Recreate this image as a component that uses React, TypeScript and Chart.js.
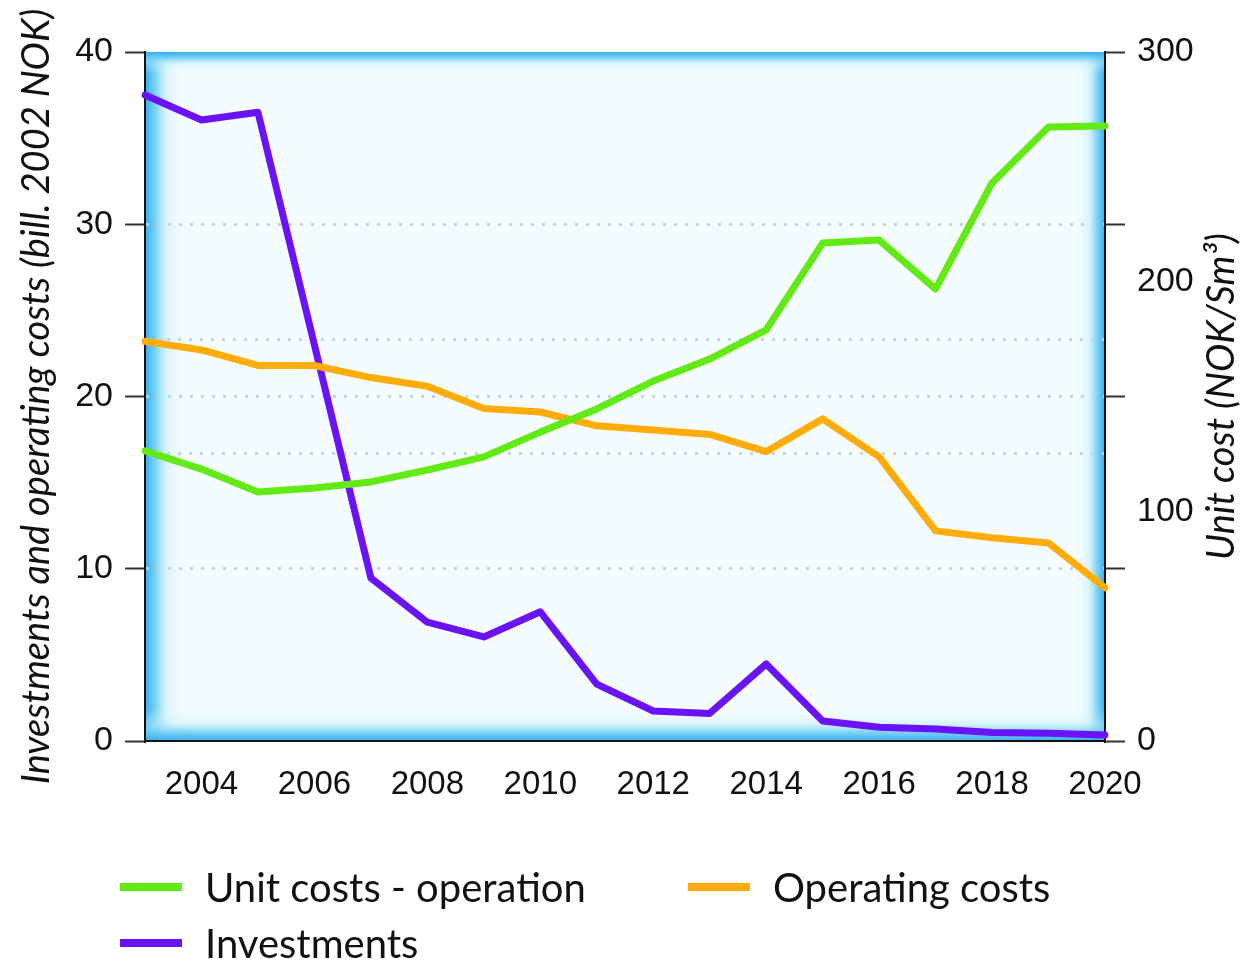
import { useEffect, useRef } from 'react';
import { Chart, registerables } from 'chart.js';
Chart.register(...registerables);

const years = [2003, 2004, 2005, 2006, 2007, 2008, 2009, 2010, 2011, 2012, 2013, 2014, 2015, 2016, 2017, 2018, 2019, 2020];
const unitCosts = [126.3, 118.4, 108.4, 110.2, 112.8, 118, 123.7, 134.5, 144.6, 156.7, 166.3, 179, 216.8, 218.1, 196.8, 243, 267.3, 267.8];
const operatingCosts = [23.2, 22.7, 21.8, 21.8, 21.1, 20.6, 19.3, 19.1, 18.3, 18.05, 17.8, 16.8, 18.7, 16.5, 12.2, 11.8, 11.5, 8.9];
const investments = [37.5, 36.05, 36.5, 23, 9.46, 6.9, 6.04, 7.5, 3.3, 1.74, 1.6, 4.47, 1.16, 0.8, 0.7, 0.5, 0.45, 0.35];

const xTickYears = [2004, 2006, 2008, 2010, 2012, 2014, 2016, 2018, 2020];
const leftTicks = [0, 10, 20, 30, 40];
const leftGrid = [10, 20, 30];
const rightAllTicks = [0, 75, 100, 125, 150, 175, 200, 225, 300];
const rightLabels = [0, 100, 200, 300];
const rightTickMarks = [0, 75, 150, 225, 300];
const rightGrid = [125, 175];

const leftTitle = 'Investments and operating costs (bill. 2002 NOK)';
const rightTitle = 'Unit cost (NOK/Sm³)';

const GREEN = '#62ea14';
const ORANGE = '#ffab08';
const PURPLE = '#6a12f8';
const DOT = '#bdd9dd';
const TICKFONT = "'Liberation Sans Narrow', 'Liberation Sans', sans-serif";
const TEXTFONT = "Lato, 'Open Sans', sans-serif";

const bgPlugin = {
  id: 'bgFrame',
  beforeDraw(chart: any) {
    const { ctx, chartArea: a } = chart;
    ctx.save();
    ctx.fillStyle = '#f4fcfe';
    ctx.fillRect(a.left, a.top, a.width, a.height);
    const edge = (x0: number, y0: number, x1: number, y1: number, rx: number, ry: number, rw: number, rh: number) => {
      const g = ctx.createLinearGradient(x0, y0, x1, y1);
      g.addColorStop(0, 'rgba(50,172,240,1)');
      g.addColorStop(0.28, 'rgba(110,205,245,0.85)');
      g.addColorStop(0.55, 'rgba(185,235,250,0.45)');
      g.addColorStop(1, 'rgba(235,250,253,0)');
      ctx.fillStyle = g;
      ctx.fillRect(rx, ry, rw, rh);
    };
    const L = 40, R = 30, T = 22, B = 32;
    edge(a.left, 0, a.left + L, 0, a.left, a.top, L, a.height);
    edge(a.right, 0, a.right - R, 0, a.right - R, a.top, R, a.height);
    edge(0, a.top, 0, a.top + T, a.left, a.top, a.width, T);
    edge(0, a.bottom, 0, a.bottom - B, a.left, a.bottom - B, a.width, B);
    ctx.restore();
  },
};

const rightTitlePlugin = {
  id: 'rightTitle',
  afterDraw(chart: any) {
    const { ctx, chartArea: a } = chart;
    ctx.save();
    ctx.translate(1222, (a.top + a.bottom) / 2);
    ctx.rotate(-Math.PI / 2);
    ctx.font = `italic 38px ${TEXTFONT}`;
    ctx.fillStyle = '#111';
    ctx.textAlign = 'center';
    ctx.textBaseline = 'middle';
    ctx.fillText(rightTitle, 0, 0);
    ctx.restore();
  },
};

export default function App() {
  const ref = useRef<HTMLCanvasElement>(null);
  useEffect(() => {
    const chart = new Chart(ref.current as HTMLCanvasElement, {
      type: 'line',
      data: {
        labels: years.map(String),
        datasets: [
          { label: 'Unit costs - operation', data: unitCosts, yAxisID: 'y1', borderColor: GREEN, backgroundColor: GREEN },
          { label: 'Operating costs', data: operatingCosts, yAxisID: 'y', borderColor: ORANGE, backgroundColor: ORANGE },
          { label: 'Investments', data: investments, yAxisID: 'y', borderColor: PURPLE, backgroundColor: PURPLE },
        ],
      },
      options: {
        animation: false,
        responsive: true,
        maintainAspectRatio: false,
        layout: { padding: { top: 52, left: 0, right: 0, bottom: 0 } },
        elements: {
          line: { borderWidth: 7, tension: 0, borderJoinStyle: 'round', borderCapStyle: 'round' },
          point: { radius: 0, hoverRadius: 0 },
        },
        plugins: { legend: { display: false }, tooltip: { enabled: false } },
        scales: {
          x: {
            type: 'category',
            offset: false,
            grid: { display: false },
            border: { display: true, color: '#111', width: 2 },
            ticks: {
              autoSkip: false,
              maxRotation: 0,
              padding: 16,
              color: '#111',
              font: { family: TICKFONT, size: 33 },
              callback: (_v: any, i: number) => (xTickYears.includes(years[i]) ? String(years[i]) : ''),
            },
            afterFit: (s: any) => { s.height = 219; },
          },
          y: {
            type: 'linear',
            position: 'left',
            min: 0,
            max: 40,
            afterBuildTicks: (s: any) => { s.ticks = leftTicks.map((v) => ({ value: v })); },
            grid: {
              color: (c: any) => (c.tick && leftGrid.includes(c.tick.value) ? DOT : 'rgba(0,0,0,0)'),
              lineWidth: 3,
              tickColor: '#333',
              tickWidth: 2,
              tickLength: 20,
              tickBorderDash: [],
            },
            border: { display: true, color: '#111', width: 2, dash: [3, 8] },
            ticks: { padding: 12, color: '#111', font: { family: TICKFONT, size: 34 } },
            title: {
              display: true,
              text: leftTitle,
              color: '#111',
              font: { family: TEXTFONT, size: 38, style: 'italic' },
              padding: { top: 14, bottom: 0 },
            },
            afterFit: (s: any) => { s.width = 145; },
          },
          y1: {
            type: 'linear',
            position: 'right',
            min: 0,
            max: 300,
            afterBuildTicks: (s: any) => { s.ticks = rightAllTicks.map((v) => ({ value: v })); },
            grid: {
              color: (c: any) => (c.tick && rightGrid.includes(c.tick.value) ? DOT : 'rgba(0,0,0,0)'),
              lineWidth: 3,
              tickColor: (c: any) => (c.tick && rightTickMarks.includes(c.tick.value) ? '#333' : 'rgba(0,0,0,0)'),
              tickWidth: 2,
              tickLength: 20,
              tickBorderDash: [],
            },
            border: { display: true, color: '#111', width: 2, dash: [3, 8] },
            ticks: {
              padding: 12,
              color: '#111',
              font: { family: TICKFONT, size: 34 },
              callback: (v: any) => (rightLabels.includes(Number(v)) ? String(v) : ''),
            },
            afterFit: (s: any) => { s.width = 142; },
          },
        },
      },
      plugins: [bgPlugin, rightTitlePlugin],
    } as any);
    return () => chart.destroy();
  }, []);

  const legendItems = [
    { label: 'Unit costs - operation', color: GREEN, left: 120, top: 887 },
    { label: 'Operating costs', color: ORANGE, left: 688, top: 887 },
    { label: 'Investments', color: PURPLE, left: 120, top: 943 },
  ];

  return (
    <div style={{ position: 'absolute', left: 0, top: 0, width: 1247, height: 960, background: '#fff' }}>
      <div style={{ position: 'absolute', left: 0, top: 0, width: 1247, height: 960 }}>
        <canvas ref={ref} />
      </div>
      {legendItems.map((it) => (
        <div
          key={it.label}
          style={{ position: 'absolute', left: it.left, top: it.top - 25, height: 50, display: 'flex', alignItems: 'center', fontFamily: TEXTFONT, fontSize: 40, color: '#111', whiteSpace: 'nowrap' }}
        >
          <span style={{ display: 'inline-block', width: 62, height: 8, background: it.color, marginRight: 23 }} />
          <span>{it.label}</span>
        </div>
      ))}
    </div>
  );
}
